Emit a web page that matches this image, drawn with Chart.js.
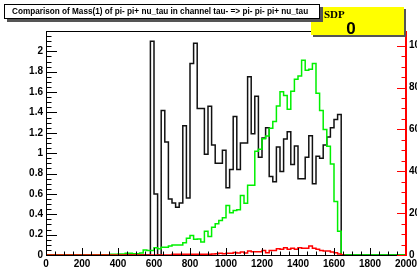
<!DOCTYPE html>
<html lang="en">
<head>
<meta charset="UTF-8">
<title>Mass(1) comparison</title>
<script src="https://cdn.jsdelivr.net/npm/chart.js"></script>
<style>
  html, body { margin: 0; padding: 0; background: #fff; overflow: hidden; }
  canvas { display: block; }
</style>
</head>
<body>
<canvas id="chart" width="417" height="274"></canvas>
<script>
// histogram bins: 0..2000 in steps of 20
const binWidth = 20;

// black histogram (left axis)
const blackHist = [
  0, 0, 0, 0, 0, 0, 0, 0, 0, 0,
  0, 0, 0, 0, 0, 0, 0, 0, 0, 0,
  0, 0, 0, 0, 0, 0, 0, 0, 0, 2.1,
  0.6, 0, 1.42, 1.11, 0.55, 0.51, 0.47, 0.51, 1.27, 0.56,
  1.88, 2.08, 1.44, 1.44, 0.99, 1.46, 1.08, 0.9, 0.9, 1.03,
  0.66, 0.84, 1.36, 0.84, 1.1, 1.1, 1.75, 1.19, 1.56, 0.96,
  1.15, 1.25, 0.77, 0.72, 1.06, 0.82, 1.14, 1.21, 0.89, 1.07,
  0.75, 0.75, 0.96, 1.17, 0.7, 0.97, 0.95, 1.08, 1.16, 1.25,
  1.33, 1.38, 0, 0, 0, 0, 0, 0, 0, 0,
  0, 0, 0, 0, 0, 0, 0, 0, 0, 0
];

// green histogram (right axis)
const greenHist = [
  0, 0, 0, 0, 0, 0, 0, 0, 0, 0,
  0, 0, 0, 0, 0, 0, 0, 0, 0.3, 0.3,
  0.5, 0.5, 0.8, 0.8, 0.6, 0.6, 1.0, 2.4, 2.1, 2.1,
  3.5, 3.0, 3.7, 3.7, 4.3, 4.8, 4.8, 4.8, 5.9, 8.0,
  9.3, 7.5, 7.7, 6.2, 11.4, 8.8, 13.2, 14.9, 16.5, 17.8,
  23.6, 20.2, 21.3, 21.6, 28.4, 24.7, 33.3, 33.3, 49.5, 50.5,
  55.5, 56.8, 60.5, 63.8, 71.2, 78.0, 76.2, 69.6, 78.2, 84.0,
  85.5, 93.0, 88.2, 88.7, 91.5, 77.3, 69.0, 60.0, 52.0, 43.5,
  25.5, 11.3, 0, 0, 0, 0, 0, 0, 0, 0,
  0, 0, 0, 0, 0, 0, 0, 0, 0, 0
];

// red histogram (right axis), ends at 1660
const redHist = [
  0, 0, 0, 0, 0, 0, 0, 0, 0, 0,
  0, 0, 0, 0, 0, 0, 0, 0, 0, 0,
  0, 0, 0, 0, 0, 0, 0, 0, 0, 0,
  0, 0, 0, 0, 0, 0.3, 0.3, 0.3, 0.3, 0.3,
  0.3, 0.3, 0.3, 0.3, 0.4, 0.4, 0.5, 0.6, 0.8, 0.6,
  0.8, 0.8, 1.2, 1.0, 1.4, 1.0, 1.9, 1.5, 1.6, 1.6,
  2.2, 1.1, 2.2, 2.2, 3.0, 2.7, 3.5, 2.7, 3.2, 2.7,
  3.5, 3.2, 3.2, 4.3, 3.2, 2.7, 2.2, 1.9, 1.9, 1.4,
  1.1, 0.5, 0
];

const xTicks = [0, 200, 400, 600, 800, 1000, 1200, 1400, 1600, 1800, 2000];
const yTicks = [0, 0.2, 0.4, 0.6, 0.8, 1, 1.2, 1.4, 1.6, 1.8, 2];
const y2Ticks = [0, 20, 40, 60, 80, 100];

const titleText = "Comparison of Mass(1) of pi- pi+ nu_tau in channel tau- => pi- pi- pi+ nu_tau";
const statLabel = "SDP";
const statValue = "0";

function toSteps(values) {
  let pts = values.map((v, i) => ({ x: i * binWidth, y: v }));
  pts.push({ x: values.length * binWidth, y: values[values.length - 1] });
  return pts;
}

const labelFont = "bold 10px 'Liberation Sans', Arial, sans-serif";

const rootAxes = {
  id: 'rootAxes',
  afterDatasetsDraw(chart) {
    const { ctx, chartArea: a, scales } = chart;
    const sx = scales.x, sy = scales.y, sy2 = scales.y2;
    ctx.save();

    // frame
    ctx.lineWidth = 1;
    ctx.strokeStyle = '#000';
    ctx.beginPath();
    ctx.moveTo(a.left + 0.5, a.bottom + 0.5);
    ctx.lineTo(a.left + 0.5, a.top + 0.5);
    ctx.lineTo(a.right, a.top + 0.5);
    ctx.moveTo(a.left, a.bottom + 0.5);
    ctx.lineTo(a.right, a.bottom + 0.5);
    ctx.stroke();

    // x axis ticks
    ctx.beginPath();
    for (let v = 0; v <= 2000; v += 50) {
      const px = Math.round(sx.getPixelForValue(v)) + 0.5;
      const len = v % 200 === 0 ? 7 : 3.5;
      ctx.moveTo(px, a.bottom);
      ctx.lineTo(px, a.bottom - len);
    }
    // left axis ticks
    for (let i = 0; i <= 44; i++) {
      const v = i * 0.05;
      const py = Math.round(sy.getPixelForValue(v)) + 0.5;
      const len = i % 4 === 0 ? 11 : 5.5;
      ctx.moveTo(a.left, py);
      ctx.lineTo(a.left + len, py);
    }
    ctx.stroke();

    // right axis in red
    ctx.strokeStyle = '#ff0000';
    ctx.lineWidth = 1;
    ctx.beginPath();
    for (let v = 0; v <= 105; v += 5) {
      const py = Math.round(sy2.getPixelForValue(v)) + 0.5;
      const len = v % 20 === 0 ? 9 : 4.5;
      ctx.moveTo(a.right, py);
      ctx.lineTo(a.right - len, py);
    }
    ctx.stroke();
    ctx.lineWidth = 2;
    ctx.beginPath();
    ctx.moveTo(a.right, a.top);
    ctx.lineTo(a.right, a.bottom + 1);
    ctx.stroke();

    // labels
    ctx.fillStyle = '#000';
    ctx.font = labelFont;
    ctx.textAlign = 'center';
    ctx.textBaseline = 'top';
    xTicks.forEach(v => ctx.fillText(String(v), sx.getPixelForValue(v), a.bottom + 4));
    ctx.textAlign = 'right';
    ctx.textBaseline = 'middle';
    yTicks.forEach(v => ctx.fillText(String(v), a.left - 3, sy.getPixelForValue(v)));
    ctx.textAlign = 'left';
    y2Ticks.forEach(v => ctx.fillText(String(v), a.right + 3, sy2.getPixelForValue(v)));

    // stat box (yellow)
    ctx.fillStyle = '#555';
    ctx.fillRect(313, 9, 93, 28);
    ctx.fillStyle = '#ffff00';
    ctx.fillRect(311, 7, 93, 28);
    ctx.fillStyle = '#000';
    ctx.textAlign = 'left';
    ctx.textBaseline = 'alphabetic';
    ctx.font = "bold 11px 'Liberation Serif', serif";
    ctx.fillText(statLabel, 324, 18);
    ctx.font = "bold 17px 'Liberation Sans', Arial, sans-serif";
    ctx.textAlign = 'center';
    ctx.fillText(statValue, 351, 34);

    // title box
    ctx.fillStyle = '#555';
    ctx.fillRect(7, 7, 316, 15);
    ctx.fillStyle = '#fff';
    ctx.fillRect(4, 4, 316, 15);
    ctx.strokeStyle = '#000';
    ctx.lineWidth = 1;
    ctx.strokeRect(4.5, 4.5, 315, 14);
    ctx.fillStyle = '#000';
    ctx.font = "bold 8.2px 'Liberation Sans', Arial, sans-serif";
    ctx.textAlign = 'left';
    ctx.textBaseline = 'middle';
    ctx.fillText(titleText, 12, 12);

    ctx.restore();
  }
};

new Chart(document.getElementById('chart'), {
  type: 'line',
  data: {
    datasets: [
      { data: toSteps(redHist), yAxisID: 'y2', borderColor: '#ff0000', borderWidth: 1.5, stepped: true, pointRadius: 0, fill: false },
      { data: toSteps(greenHist), yAxisID: 'y2', borderColor: '#00f000', borderWidth: 1.5, stepped: true, pointRadius: 0, fill: false },
      { data: toSteps(blackHist), yAxisID: 'y', borderColor: '#111', borderWidth: 1.5, stepped: true, pointRadius: 0, fill: false }
    ]
  },
  options: {
    responsive: false,
    animation: false,
    layout: { padding: { left: 46, right: 11, top: 31, bottom: 19 } },
    plugins: { legend: { display: false }, tooltip: { enabled: false } },
    scales: {
      x: { type: 'linear', min: 0, max: 2000, display: false },
      y: { min: 0, max: 2.2, display: false },
      y2: { min: 0, max: 107, display: false, position: 'right' }
    }
  },
  plugins: [rootAxes]
});
</script>
</body>
</html>
